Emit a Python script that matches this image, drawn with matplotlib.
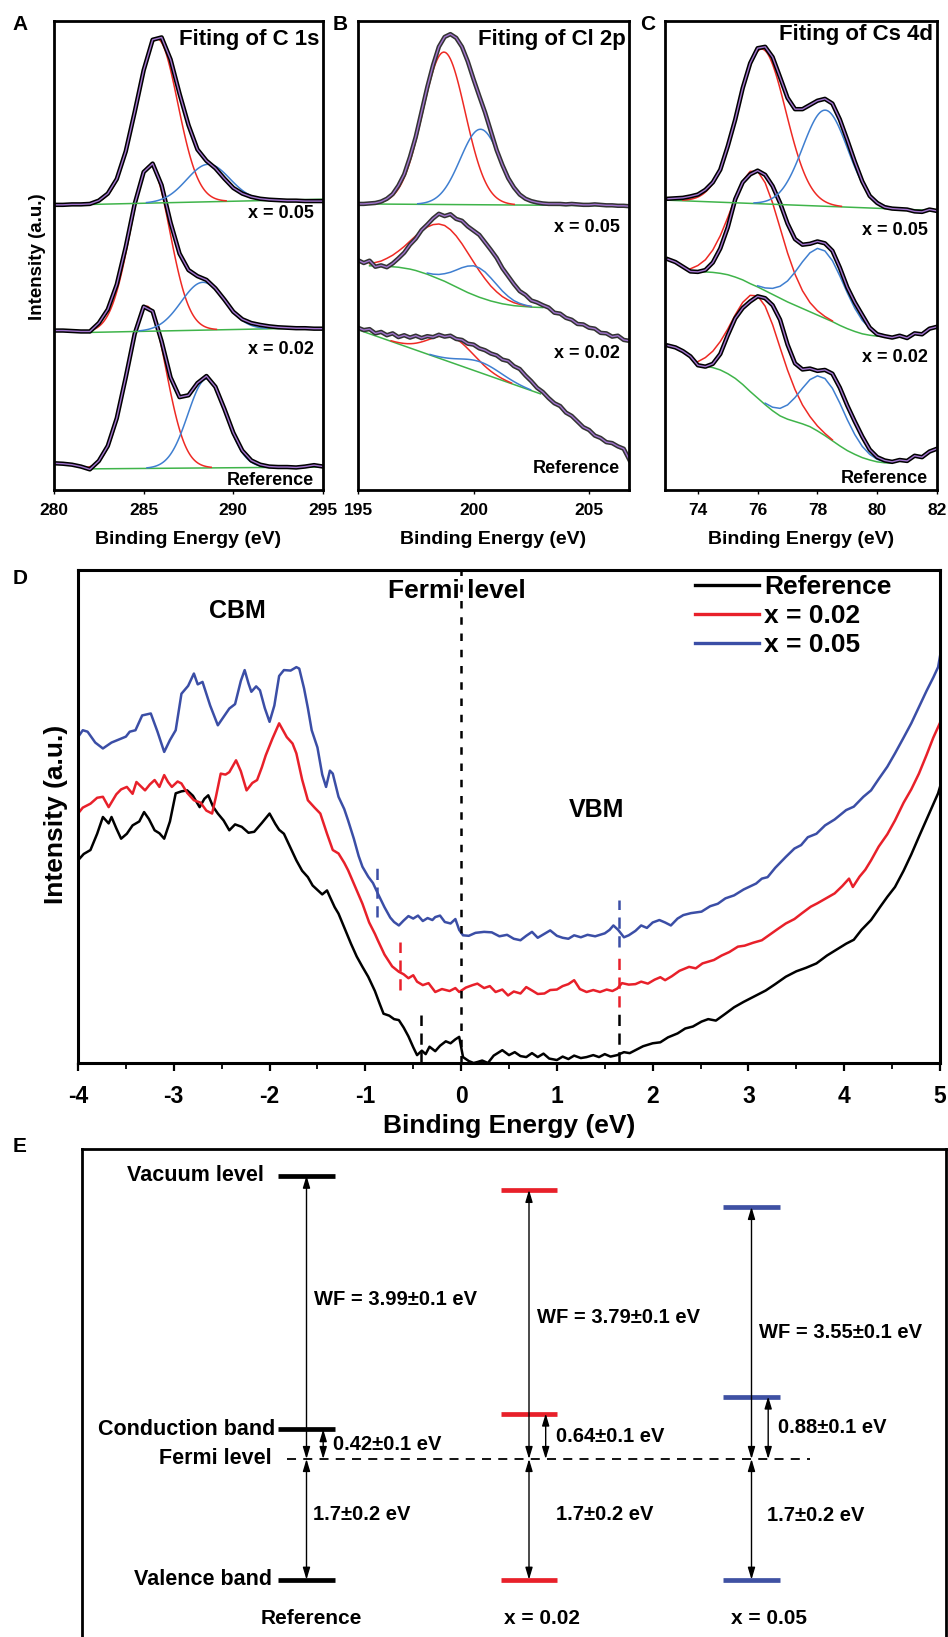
import numpy as np
import matplotlib
matplotlib.use("Agg")
import matplotlib.pyplot as plt
from matplotlib.lines import Line2D

plt.rcParams['font.family'] = ['Liberation Sans', 'DejaVu Sans']
plt.rcParams['font.weight'] = 'bold'
plt.rcParams['axes.unicode_minus'] = False

W, H = 948, 1637

PURPLE = "#a274cf"
RED_FIT = "#ee2a24"
BLUE_FIT = "#3f7fd0"
GREEN = "#3fb44a"
RED = "#e8202a"
BLUE = "#3b4ea6"

# ------------------------------------------------
# A. C 1s  (order: Reference, x = 0.02, x = 0.05)
# ------------------------------------------------
c1s_x = np.arange(280, 295.01, 0.5)
c1s_ref = [5.7, 5.6, 5.4, 5.0, 4.4, 6.2, 9.4, 15.3, 24.0, 33.3, 39.1, 38.1, 31.7, 24.0, 19.8, 20.2,
           22.8, 24.3, 22.0, 17.3, 12.2, 8.4, 6.3, 5.4, 5.0, 4.9, 4.9, 4.8, 5.0, 5.3, 5.0]
c1s_002 = [34.0, 34.0, 33.9, 33.8, 33.8, 35.6, 38.5, 43.8, 51.8, 61.0, 67.8, 69.6, 65.0, 57.0, 50.4, 46.9,
           45.6, 44.8, 43.0, 40.6, 38.0, 36.4, 35.6, 35.2, 34.9, 34.7, 34.6, 34.5, 34.5, 34.4, 34.4]
c1s_005 = [60.8, 60.8, 60.9, 60.9, 61.0, 61.7, 63.2, 66.3, 72.2, 80.6, 89.5, 96.0, 96.5, 91.8, 84.5, 77.8,
           72.6, 70.2, 68.6, 66.4, 64.4, 63.2, 62.5, 62.1, 61.9, 61.8, 61.7, 61.7, 61.6, 61.6, 61.6]
c1s_bg = [([281.8, 295], [4.5, 4.9]), ([282.0, 295], [33.6, 34.6]), ([282.2, 295], [60.9, 62.0])]
c1s_peak1 = [(285.17, 34.6, 1.08), (285.35, 35.3, 1.1), (285.75, 35.0, 1.15)]
c1s_peak2 = [(288.52, 19.0, 1.05), (288.3, 10.2, 1.2), (288.6, 8.0, 1.2)]

# ------------------------------------------------
# B. Cl 2p
# ------------------------------------------------
cl2p_x = np.arange(195, 206.76, 0.25)
cl2p_ref = [34.6, 34.1, 34.3, 33.4, 33.7, 33.0, 33.4, 32.6, 33.0, 32.5, 32.9, 32.4, 32.8, 32.6, 33.1, 32.7,
            32.9, 32.2, 32.0, 31.2, 31.0, 30.2, 29.8, 29.1, 28.7, 27.8, 27.5, 26.4, 25.8, 24.4, 23.2, 21.8,
            20.9, 19.6, 18.5, 17.9, 16.5, 15.8, 14.6, 13.4, 12.8, 11.6, 11.1, 10.2, 10.0, 9.3, 8.8, 6.4]
cl2p_002 = [49.0, 48.4, 48.9, 47.6, 47.9, 47.5, 48.3, 49.4, 50.6, 52.3, 53.6, 55.4, 56.6, 57.9, 58.9, 58.4,
            58.8, 57.8, 57.4, 56.2, 55.3, 54.4, 52.8, 51.2, 49.5, 47.3, 45.6, 43.9, 42.4, 41.6, 40.4, 40.0,
            39.4, 38.9, 37.8, 37.6, 36.7, 36.3, 35.4, 35.3, 34.6, 34.4, 33.5, 33.4, 32.7, 32.9, 32.0, 31.8]
cl2p_005 = [61.0, 61.0, 61.1, 61.2, 61.5, 62.1, 63.1, 64.9, 67.3, 71.0, 75.3, 80.6, 85.9, 90.6, 94.5, 96.6,
            97.2, 96.4, 94.5, 91.4, 87.6, 84.0, 80.5, 76.5, 72.5, 69.3, 66.5, 64.5, 63.0, 62.1, 61.6, 61.3,
            61.1, 61.0, 61.0, 61.0, 60.9, 61.0, 60.9, 60.8, 60.8, 60.9, 60.8, 60.7, 60.7, 60.6, 60.6, 60.5]
cl2p_green002_x = np.arange(195.5, 203.01, 0.25)
cl2p_green002 = [47.8, 47.8, 47.7, 47.7, 47.6, 47.5, 47.3, 47.1, 46.8, 46.4, 46.0, 45.5, 45.0, 44.5, 43.9, 43.3,
                 42.7, 42.1, 41.6, 41.1, 40.7, 40.3, 40.0, 39.7, 39.5, 39.3, 39.2, 39.1, 39.0, 38.95, 38.9]
cl2p_bg = [([195.1, 202.9], [34.0, 20.5]), (cl2p_green002_x, cl2p_green002), ([195.0, 206.7], [61.0, 60.6])]
cl2p_peak1 = [(199.05, 5.5, 0.95), (198.72, 11.9, 1.25), (198.72, 32.5, 0.92)]
cl2p_peak2 = [(200.3, 2.3, 0.9), (200.15, 6.3, 0.85), (200.3, 16.1, 0.87)]

# ------------------------------------------------
# C. Cs 4d
# ------------------------------------------------
cs4d_x = np.arange(73, 82.01, 0.25)
cs4d_ref = [30.8, 30.4, 29.6, 28.5, 26.6, 26.3, 26.9, 29.0, 33.0, 36.6, 38.8, 40.2, 41.3, 40.9, 39.4, 36.3,
            31.0, 27.0, 25.7, 25.9, 25.4, 25.6, 24.8, 21.8, 18.0, 14.6, 11.4, 8.6, 7.0, 6.3, 6.0, 6.4,
            6.2, 7.3, 7.0, 8.2, 8.8]
cs4d_002 = [49.2, 48.6, 47.6, 46.6, 46.5, 46.9, 48.5, 51.5, 56.0, 62.0, 65.6, 67.3, 68.1, 67.2, 64.8, 61.2,
            56.8, 53.5, 52.3, 52.5, 53.0, 52.6, 51.0, 47.4, 43.2, 40.0, 37.3, 34.6, 33.2, 32.8, 32.5, 32.9,
            32.4, 33.4, 33.2, 34.4, 34.8]
cs4d_005 = [62.1, 62.2, 62.3, 62.6, 63.0, 64.0, 65.6, 68.3, 73.3, 79.0, 85.7, 91.0, 94.2, 94.5, 92.3, 88.0,
            83.6, 81.2, 81.2, 82.1, 83.0, 83.4, 82.4, 79.0, 74.6, 70.0, 65.8, 62.7, 61.2, 60.3, 60.0, 59.9,
            59.8, 59.4, 59.3, 59.8, 59.5]
cs4d_green_ref_x = np.arange(74, 80.51, 0.25)
cs4d_green_ref = [26.5, 26.4, 26.1, 25.6, 24.8, 23.8, 22.5, 21.0, 19.6, 18.2, 16.9, 15.8, 15.1, 14.6, 14.1,
                  13.5, 12.6, 11.6, 10.5, 9.4, 8.4, 7.6, 6.9, 6.4, 6.0, 5.8, 5.7]
cs4d_green002_x = np.arange(73.75, 80.26, 0.25)
cs4d_green002 = [46.6, 46.6, 46.5, 46.4, 46.2, 45.9, 45.4, 44.8, 44.0, 43.3, 42.5, 41.7, 40.9, 40.1, 39.4,
                 38.7, 38.0, 37.3, 36.6, 35.9, 35.1, 34.4, 33.8, 33.3, 33.0, 32.8, 32.7]
cs4d_bg = [(cs4d_green_ref_x, cs4d_green_ref), (cs4d_green002_x, cs4d_green002), ([72.96, 81.9], [61.8, 59.6])]
cs4d_peak1 = [(76.03, 21.8, 0.8), (75.95, 24.7, 0.8), (76.14, 33.0, 0.8)]
cs4d_peak2 = [(78.2, 12.2, 0.72), (78.15, 14.5, 0.75), (78.26, 20.5, 0.75)]

# ------------------------------------------------
# D. UPS near Fermi level
# ------------------------------------------------
ups_ref = [(-4.0, 41.1), (-3.94, 42.4), (-3.87, 43.2), (-3.80, 46.5), (-3.74, 49.9), (-3.68, 48.6), (-3.65, 49.9),
           (-3.60, 47.6), (-3.55, 45.5), (-3.49, 46.5), (-3.43, 48.2), (-3.36, 49.0), (-3.31, 50.9), (-3.26, 49.5),
           (-3.2, 47.2), (-3.15, 46.6), (-3.1, 45.5), (-3.04, 49.0), (-2.98, 54.7), (-2.92, 55.1), (-2.86, 55.3),
           (-2.80, 54.2), (-2.73, 51.9), (-2.68, 53.6), (-2.64, 54.3), (-2.59, 52.0), (-2.54, 50.6), (-2.48, 49.2),
           (-2.42, 47.2), (-2.36, 48.4), (-2.29, 47.9), (-2.22, 46.7), (-2.16, 46.9), (-2.08, 48.7), (-2.0, 50.6),
           (-1.94, 48.5), (-1.90, 47.3), (-1.85, 46.5), (-1.78, 43.6), (-1.72, 41.1), (-1.66, 39.0), (-1.60, 37.7),
           (-1.55, 36.0), (-1.50, 35.1), (-1.45, 34.2), (-1.40, 35.0), (-1.37, 33.7), (-1.32, 31.6), (-1.28, 30.3),
           (-1.22, 27.5), (-1.15, 24.2), (-1.09, 21.6), (-1.03, 19.5), (-0.97, 17.5), (-0.90, 14.6), (-0.85, 12.0),
           (-0.81, 10.0), (-0.75, 9.6), (-0.70, 8.9), (-0.65, 8.7), (-0.60, 7.2), (-0.55, 5.4), (-0.50, 3.2),
           (-0.46, 1.6), (-0.41, 2.5), (-0.37, 1.8), (-0.33, 3.3), (-0.27, 2.4), (-0.22, 3.5), (-0.16, 4.4),
           (-0.11, 4.0), (-0.06, 4.8), (-0.02, 5.3), (0.02, 1.2), (0.08, 0.4), (0.13, 0.0), (0.17, 0.2), (0.22, 0.5),
           (0.28, 0.0), (0.34, 1.5), (0.43, 2.6), (0.50, 1.6), (0.56, 2.2), (0.62, 1.4), (0.68, 1.2), (0.74, 2.0),
           (0.80, 1.2), (0.86, 1.9), (0.92, 0.9), (1.0, 0.6), (1.06, 1.3), (1.12, 0.8), (1.18, 1.5), (1.25, 1.0),
           (1.31, 1.2), (1.38, 1.6), (1.44, 1.2), (1.50, 1.8), (1.56, 1.3), (1.63, 1.6), (1.70, 2.2), (1.76, 2.0),
           (1.82, 2.6), (1.90, 3.4), (2.0, 4.0), (2.08, 4.2), (2.16, 5.2), (2.26, 6.0), (2.34, 7.0), (2.42, 7.4),
           (2.51, 8.4), (2.58, 8.9), (2.66, 8.6), (2.76, 10.0), (2.85, 11.3), (2.95, 12.4), (3.08, 13.7),
           (3.18, 14.7), (3.28, 16.0), (3.39, 17.5), (3.50, 18.6), (3.60, 19.3), (3.71, 20.2), (3.82, 21.8),
           (3.92, 23.0), (4.02, 24.2), (4.10, 25.0), (4.18, 27.0), (4.28, 29.0), (4.38, 31.8), (4.45, 33.7),
           (4.53, 35.7), (4.62, 39.0), (4.70, 42.3), (4.78, 45.9), (4.86, 49.4), (4.93, 52.5), (4.98, 54.7),
           (5.0, 56.0)]
ups_002 = [(-4.0, 50.6), (-3.95, 51.8), (-3.87, 52.6), (-3.80, 53.8), (-3.74, 54.0), (-3.68, 51.9), (-3.60, 54.5),
           (-3.55, 55.5), (-3.49, 56.0), (-3.43, 54.6), (-3.39, 57.0), (-3.3, 55.3), (-3.25, 56.5), (-3.2, 57.4),
           (-3.15, 56.0), (-3.1, 58.4), (-3.06, 57.0), (-3.02, 56.0), (-2.96, 57.1), (-2.92, 56.7), (-2.86, 54.8),
           (-2.79, 53.3), (-2.72, 52.8), (-2.66, 51.2), (-2.6, 50.6), (-2.56, 54.0), (-2.51, 58.7), (-2.46, 58.5),
           (-2.42, 59.0), (-2.35, 61.4), (-2.30, 59.2), (-2.24, 55.3), (-2.18, 56.8), (-2.13, 57.4), (-2.08, 60.0),
           (-2.04, 62.4), (-1.97, 65.8), (-1.90, 68.9), (-1.86, 67.5), (-1.82, 66.1), (-1.76, 64.8), (-1.72, 62.8),
           (-1.66, 57.5), (-1.60, 53.3), (-1.53, 51.8), (-1.47, 50.6), (-1.40, 46.5), (-1.34, 43.2), (-1.28, 42.5),
           (-1.22, 40.6), (-1.18, 39.1), (-1.10, 35.5), (-1.03, 32.3), (-0.96, 28.5), (-0.90, 26.2), (-0.87, 24.9),
           (-0.80, 22.0), (-0.72, 19.6), (-0.65, 18.5), (-0.60, 18.0), (-0.55, 17.2), (-0.50, 17.8), (-0.46, 16.5),
           (-0.40, 15.8), (-0.34, 16.2), (-0.27, 14.4), (-0.20, 15.0), (-0.12, 14.6), (-0.06, 15.2), (-0.02, 14.4),
           (0.05, 15.3), (0.12, 15.8), (0.17, 16.1), (0.24, 15.2), (0.30, 15.6), (0.36, 14.4), (0.43, 14.9),
           (0.49, 13.7), (0.55, 14.5), (0.62, 14.1), (0.68, 15.4), (0.75, 14.6), (0.80, 14.0), (0.87, 14.1),
           (0.93, 14.8), (1.0, 14.9), (1.06, 15.6), (1.12, 16.0), (1.18, 16.8), (1.24, 15.0), (1.31, 14.4),
           (1.38, 14.8), (1.45, 14.4), (1.52, 14.9), (1.58, 14.6), (1.63, 15.1), (1.68, 16.2), (1.75, 15.9),
           (1.82, 16.0), (1.88, 16.5), (1.95, 16.1), (2.02, 16.9), (2.08, 17.4), (2.13, 16.8), (2.20, 17.6),
           (2.28, 18.7), (2.38, 19.5), (2.45, 19.2), (2.52, 20.2), (2.64, 20.9), (2.72, 21.8), (2.80, 22.5),
           (2.89, 23.6), (2.96, 23.8), (3.05, 24.4), (3.14, 24.9), (3.22, 26.0), (3.30, 27.1), (3.39, 28.3),
           (3.48, 29.2), (3.56, 30.4), (3.65, 31.7), (3.72, 32.4), (3.80, 33.3), (3.9, 34.4), (3.98, 35.9),
           (4.05, 37.4), (4.09, 35.7), (4.16, 37.8), (4.22, 39.2), (4.28, 41.1), (4.36, 43.9), (4.45, 46.4),
           (4.53, 49.2), (4.62, 52.8), (4.70, 55.5), (4.78, 58.7), (4.86, 62.5), (4.93, 66.0), (5.0, 69.0)]
ups_005 = [(-4.0, 66.1), (-3.95, 67.5), (-3.9, 67.2), (-3.82, 65.0), (-3.74, 63.8), (-3.65, 65.0), (-3.55, 65.8),
           (-3.5, 66.2), (-3.46, 67.2), (-3.4, 67.5), (-3.33, 70.5), (-3.24, 70.9), (-3.17, 67.2), (-3.1, 63.1),
           (-3.04, 65.5), (-2.98, 67.5), (-2.92, 74.9), (-2.85, 76.5), (-2.79, 79.0), (-2.75, 76.8), (-2.70, 77.3),
           (-2.62, 72.5), (-2.54, 68.5), (-2.48, 70.2), (-2.42, 71.9), (-2.36, 72.8), (-2.30, 77.5), (-2.26, 79.7),
           (-2.22, 77.0), (-2.19, 75.3), (-2.14, 76.4), (-2.10, 75.6), (-2.05, 72.0), (-2.0, 69.2), (-1.95, 72.5),
           (-1.90, 78.5), (-1.85, 79.7), (-1.78, 79.6), (-1.72, 80.3), (-1.69, 80.0), (-1.64, 76.0), (-1.60, 72.0),
           (-1.56, 67.5), (-1.50, 64.0), (-1.45, 58.5), (-1.41, 56.0), (-1.37, 59.3), (-1.34, 58.7), (-1.28, 54.0),
           (-1.22, 51.5), (-1.18, 49.2), (-1.12, 45.5), (-1.07, 42.0), (-1.03, 39.8), (-0.97, 37.8), (-0.92, 36.5),
           (-0.87, 34.4), (-0.80, 31.6), (-0.74, 29.5), (-0.70, 28.6), (-0.65, 27.9), (-0.60, 28.9), (-0.55, 29.8),
           (-0.50, 29.3), (-0.45, 29.9), (-0.40, 28.8), (-0.35, 29.4), (-0.30, 29.0), (-0.27, 29.6), (-0.22, 29.9),
           (-0.17, 28.6), (-0.11, 28.3), (-0.06, 29.2), (-0.02, 27.0), (0.02, 25.9), (0.08, 25.8), (0.15, 26.4),
           (0.24, 26.6), (0.32, 26.5), (0.40, 25.7), (0.48, 26.0), (0.55, 25.2), (0.62, 24.9), (0.68, 25.8),
           (0.74, 26.6), (0.80, 25.4), (0.86, 26.1), (0.93, 26.9), (1.0, 25.8), (1.06, 25.4), (1.12, 25.2),
           (1.18, 25.9), (1.25, 25.5), (1.32, 26.0), (1.40, 25.7), (1.50, 26.3), (1.55, 27.0), (1.59, 27.9),
           (1.64, 27.0), (1.70, 25.5), (1.75, 25.9), (1.82, 26.8), (1.88, 27.9), (1.94, 27.4), (2.0, 28.5),
           (2.07, 29.0), (2.13, 28.5), (2.19, 27.9), (2.26, 29.3), (2.32, 30.0), (2.40, 30.4), (2.51, 30.7),
           (2.60, 31.8), (2.68, 32.3), (2.76, 33.4), (2.85, 34.0), (2.95, 35.2), (3.08, 36.4), (3.14, 37.4),
           (3.2, 37.7), (3.28, 39.6), (3.39, 41.8), (3.48, 43.5), (3.55, 44.2), (3.62, 45.8), (3.71, 46.5),
           (3.8, 48.2), (3.9, 49.4), (4.02, 51.3), (4.1, 52.0), (4.2, 54.0), (4.28, 55.3), (4.36, 57.6),
           (4.45, 60.1), (4.53, 62.8), (4.62, 66.0), (4.70, 68.9), (4.78, 72.2), (4.86, 75.5), (4.93, 78.2),
           (4.98, 80.3), (5.0, 82.5)]
cbm_edge = [-0.42, -0.64, -0.88]
vbm_edge = [1.65, 1.65, 1.65]
cbm_mark_y = [(0, 9.7), (14.8, 24.6), (29.6, 39.8)]
vbm_mark_y = [(0, 10.0), (11.4, 22.2), (23.5, 33.0)]
ups_labels = ["Reference", "x = 0.02", "x = 0.05"]
ups_colors = ["black", RED, BLUE]

# ------------------------------------------------
# E. Energy level diagram
# ------------------------------------------------
work_function = [3.99, 3.79, 3.55]
cb_offset = [0.42, 0.64, 0.88]
vb_offset = [1.7, 1.7, 1.7]
wf_text = ["WF = 3.99\u00b10.1 eV", "WF = 3.79\u00b10.1 eV", "WF = 3.55\u00b10.1 eV"]
cb_text = ["0.42\u00b10.1 eV", "0.64\u00b10.1 eV", "0.88\u00b10.1 eV"]
vb_text = ["1.7\u00b10.2 eV", "1.7\u00b10.2 eV", "1.7\u00b10.2 eV"]
level_colors = ["black", RED, "#3f51a3"]


def gauss(x, c, h, s):
    return h * np.exp(-(x - c) ** 2 / (2 * s ** 2))


def background(bx, by):
    if len(bx) == 2:
        xs = np.linspace(bx[0], bx[1], 200)
        ys = by[0] + (by[1] - by[0]) * (xs - bx[0]) / (bx[1] - bx[0])
    else:
        xs, ys = np.asarray(bx, float), np.asarray(by, float)
    return xs, ys


fig = plt.figure(figsize=(W / 100, H / 100), dpi=100)


def px_axes(left, top, right, bottom):
    return fig.add_axes([left / W, 1 - bottom / H, (right - left) / W, (bottom - top) / H])


def draw_xps(ax, x, spectra, bgs, p1, p2, data_color="black"):
    for y, bg, a, b in zip(spectra, bgs, p1, p2):
        xs, base = background(*bg)
        ax.plot(xs, base, color=GREEN, lw=1.1)
        for (c, h, s), col in ((a, RED_FIT), (b, BLUE_FIT)):
            g = gauss(xs, c, h, s)
            m = g > 0.12
            ax.plot(xs[m], base[m] + g[m], color=col, lw=1.1)
        ax.plot(x, y, color=data_color, lw=3.2, solid_joinstyle="round")
        ax.plot(x, y, color=PURPLE, lw=1.0)
    ax.set_ylim(0, 100)
    ax.set_yticks([])
    for sp in ax.spines.values():
        sp.set_linewidth(2.0)
    ax.tick_params(axis="x", direction="out", length=3, width=1, labelsize=12.5, pad=6)
    ax.set_xlabel("Binding Energy (eV)", fontsize=14, fontweight="bold", labelpad=10)


def label_panel(ax, title, title_y, right_x, label_ys):
    ax.text(right_x + 0.02, title_y, title, transform=ax.transAxes, ha="right", va="center",
            fontsize=16, fontweight="bold")
    for txt, yy in zip(["Reference", "x = 0.02", "x = 0.05"], label_ys):
        ax.text(right_x, yy, txt, transform=ax.transAxes, ha="right", va="center",
                fontsize=13, fontweight="bold")


# A
axA = px_axes(54, 21, 323, 490)
draw_xps(axA, c1s_x, [c1s_ref, c1s_002, c1s_005], c1s_bg, c1s_peak1, c1s_peak2)
axA.set_xlim(280, 295)
axA.set_xticks([280, 285, 290, 295])
label_panel(axA, "Fiting of C 1s", 0.96, 0.966, [0.021, 0.30, 0.59])

# B
axB = px_axes(358, 21, 629, 490)
draw_xps(axB, cl2p_x, [cl2p_ref, cl2p_002, cl2p_005], cl2p_bg, cl2p_peak1, cl2p_peak2, data_color="#333333")
axB.set_xlim(195, 206.73)
axB.set_xticks([195, 200, 205])
label_panel(axB, "Fiting of Cl 2p", 0.96, 0.967, [0.045, 0.29, 0.56])

# C
axC = px_axes(665, 21, 937, 490)
draw_xps(axC, cs4d_x, [cs4d_ref, cs4d_002, cs4d_005], cs4d_bg, cs4d_peak1, cs4d_peak2)
axC.set_xlim(72.9, 82)
axC.set_xticks([74, 76, 78, 80, 82])
label_panel(axC, "Fiting of Cs 4d", 0.972, 0.967, [0.025, 0.282, 0.553])

fig.text(37 / W, 1 - 257 / H, "Intensity (a.u.)", rotation=90, ha="center", va="center",
         fontsize=13.5, fontweight="bold")

# D
axD = px_axes(78, 570, 940, 1063)
for curve, col, lab in zip([ups_ref, ups_002, ups_005], ups_colors, ups_labels):
    xs = [p[0] for p in curve]
    ys = [p[1] for p in curve]
    axD.plot(xs, ys, color=col, lw=1.8, label=lab)
axD.axvline(0, color="black", lw=1.8, ls=(0, (3, 3.5)), zorder=5)
for xe, (y0, y1), col in zip(cbm_edge, cbm_mark_y, ups_colors):
    axD.plot([xe, xe], [y0, y1], color=col, lw=1.8, ls=(0, (4.5, 3)))
for xe, (y0, y1), col in zip(vbm_edge, vbm_mark_y, ups_colors):
    axD.plot([xe, xe], [y0, y1], color=col, lw=1.8, ls=(0, (4.5, 3)))
axD.set_xlim(-4, 5)
axD.set_ylim(0, 100)
axD.set_yticks([])
axD.set_xticks(range(-4, 6))
axD.set_xticks(np.arange(-3.5, 5, 1), minor=True)
axD.tick_params(axis="x", which="major", direction="out", length=6, width=1.6, labelsize=16.5, pad=10)
axD.tick_params(axis="x", which="minor", direction="out", length=4, width=1.3)
for sp in axD.spines.values():
    sp.set_linewidth(2.2)
axD.set_xlabel("Binding Energy (eV)", fontsize=19, fontweight="bold", labelpad=4)
fig.text(56 / W, 1 - 814 / H, "Intensity (a.u.)", rotation=90, ha="center", va="center",
         fontsize=19, fontweight="bold")
axD.text(-2.34, 91.7, "CBM", ha="center", va="center", fontsize=18, fontweight="bold")
axD.text(-0.04, 95.7, "Fermi level", ha="center", va="center", fontsize=19, fontweight="bold")
axD.text(1.41, 51.3, "VBM", ha="center", va="center", fontsize=18, fontweight="bold")
handles = [Line2D([], [], color=c, lw=2.4) for c in ups_colors]
axD.legend(handles, ups_labels, loc="upper left", bbox_to_anchor=(0.716, 0.99), frameon=False,
           handlelength=2.4, handletextpad=0.2, labelspacing=0.2, borderpad=0, borderaxespad=0,
           prop={"size": 19, "weight": "bold"})

# E
axE = px_axes(82, 1149, 946, 1660)
axE.set_xlim((82 - 306.5) / 222.5, (946 - 306.5) / 222.5)
axE.set_ylim(-(1660 - 1459) / 71, (1459 - 1149) / 71)
axE.set_xticks([])
axE.set_yticks([])
for sp in axE.spines.values():
    sp.set_linewidth(2.0)
arrow = dict(arrowstyle="<|-|>,head_length=0.6,head_width=0.18", color="black", lw=1.0,
             shrinkA=0, shrinkB=0, mutation_scale=12)
half = 0.128
wf_shift = [0.25, 0.1, 0.0]
for i in range(3):
    col = level_colors[i]
    vac, cb, vb = work_function[i], cb_offset[i], -vb_offset[i]
    for lev in (vac, cb, vb):
        axE.plot([i - half, i + half], [lev, lev], color=col, lw=3.4, solid_capstyle="butt")
    axE.annotate("", xy=(i, vac), xytext=(i, 0), arrowprops=arrow)
    axE.annotate("", xy=(i, vb), xytext=(i, 0), arrowprops=arrow)
    axE.annotate("", xy=(i + 0.075, cb), xytext=(i + 0.075, 0), arrowprops=arrow)
    axE.text(i + 0.035, vac / 2 + wf_shift[i], wf_text[i], ha="left", va="center",
             fontsize=14.5, fontweight="bold")
    axE.text(i + 0.12, cb / 2, cb_text[i], ha="left", va="center", fontsize=14.5, fontweight="bold")
axE.text(0.03, -0.78, vb_text[0], ha="left", va="center", fontsize=14.5, fontweight="bold")
axE.text(1.12, -0.78, vb_text[1], ha="left", va="center", fontsize=14.5, fontweight="bold")
axE.text(2.07, -0.8, vb_text[2], ha="left", va="center", fontsize=14.5, fontweight="bold")
axE.plot([-0.088, 2.263], [0, 0], color="black", lw=1.3, ls=(0, (5, 4)))
axE.text(-0.19, work_function[0], "Vacuum level", ha="right", va="center", fontsize=15.5, fontweight="bold")
axE.text(-0.14, cb_offset[0], "Conduction band", ha="right", va="center", fontsize=15.5, fontweight="bold")
axE.text(-0.155, 0, "Fermi level", ha="right", va="center", fontsize=15.5, fontweight="bold")
axE.text(-0.155, -vb_offset[0], "Valence band", ha="right", va="center", fontsize=15.5, fontweight="bold")
for xx, txt in zip([0.02, 1.06, 2.08], ups_labels):
    axE.text(xx, -2.24, txt, ha="center", va="center", fontsize=15, fontweight="bold")

for txt, (x, y) in zip("ABCDE", [(20, 25), (340, 24), (648, 24), (20, 578), (20, 1147)]):
    fig.text(x / W, 1 - y / H, txt, ha="center", va="center", fontsize=15, fontweight="bold")

fig.savefig("out.png", dpi=100)
